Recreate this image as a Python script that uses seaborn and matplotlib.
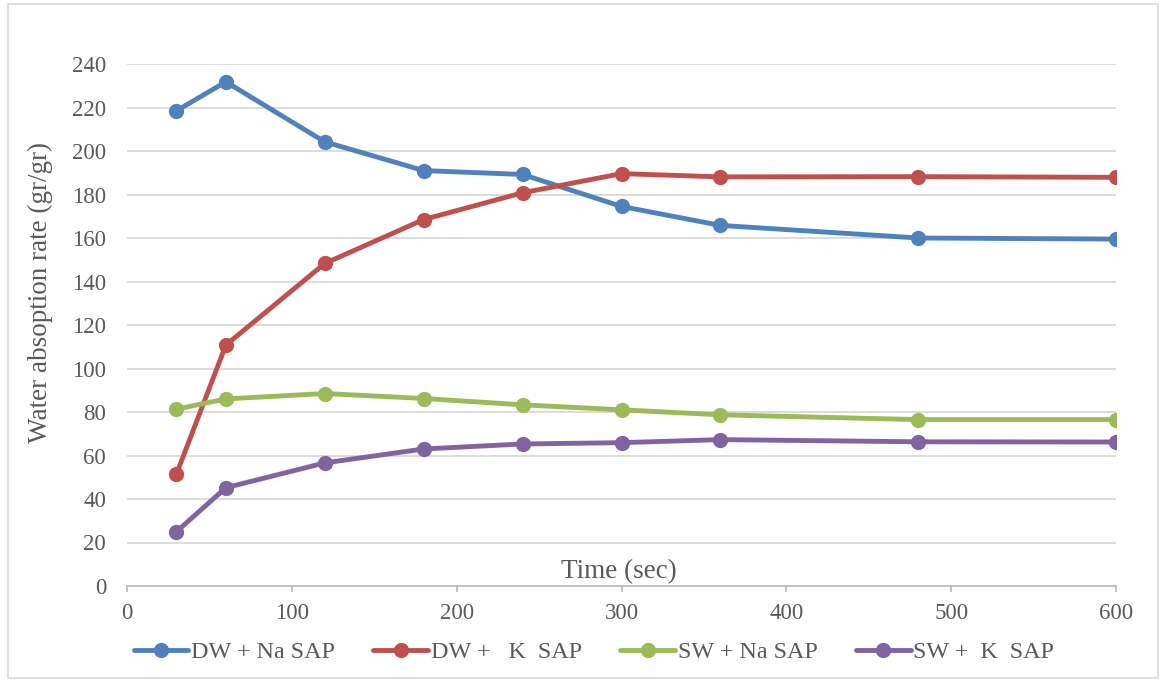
import matplotlib
matplotlib.use("Agg")
import matplotlib.pyplot as plt
import seaborn as sns
import pandas as pd
from matplotlib.patches import Rectangle

time_sec = [30, 60, 120, 180, 240, 300, 360, 480, 600]
dw_na = [218.5, 231.8, 204.2, 191.0, 189.2, 174.5, 165.8, 160.0, 159.5]
dw_k = [51.5, 110.8, 148.3, 168.5, 180.8, 189.6, 188.1, 188.2, 187.9]
sw_na = [81.3, 86.0, 88.5, 86.2, 83.3, 81.0, 78.7, 76.5, 76.5]
sw_k = [25.0, 45.2, 56.6, 63.0, 65.3, 65.9, 67.3, 66.3, 66.2]

labels = ["DW + Na SAP", "DW +   K  SAP", "SW + Na SAP", "SW +  K  SAP"]
colors = ["#4F81BD", "#C0504D", "#9BBB59", "#8064A2"]

frames = []
for lab, vals in zip(labels, [dw_na, dw_k, sw_na, sw_k]):
    frames.append(pd.DataFrame({"Time": time_sec, "Rate": vals, "Series": lab}))
df = pd.concat(frames, ignore_index=True)

sns.set_theme(style="white")
plt.rcParams["font.family"] = ["Liberation Serif", "DejaVu Serif"]

fig = plt.figure(figsize=(11.63, 6.82), dpi=100)
ax = fig.add_axes([127 / 1163, 1 - 586 / 682, (1116 - 127) / 1163, (586 - 64) / 682])

sns.lineplot(data=df, x="Time", y="Rate", hue="Series", hue_order=labels,
             palette=colors, marker="o", markersize=11, linewidth=3.5,
             markeredgewidth=0, ax=ax, legend=False)

ax.set_xlim(0, 600)
ax.set_ylim(0, 240)
ax.set_xticks(range(0, 601, 100))
ax.set_yticks(range(0, 241, 20))
ax.yaxis.grid(True, color="#D9D9D9", linewidth=1.3)
ax.xaxis.grid(False)
for side in ["top", "right", "left"]:
    ax.spines[side].set_visible(False)
ax.spines["bottom"].set_color("#BFBFBF")
ax.spines["bottom"].set_linewidth(1.3)
ax.tick_params(axis="both", labelsize=16.5, labelcolor="#595959")
ax.tick_params(axis="y", length=0, pad=15)
ax.tick_params(axis="x", direction="out", length=4, width=1.3, color="#BFBFBF",
               pad=8, bottom=True)

ax.set_xlabel("")
ax.set_ylabel("Water absoption rate (gr/gr)", fontsize=19.5, color="#595959")
ax.yaxis.set_label_coords(-0.075, 0.563)
ax.text(0.497, 0.004, "Time (sec)", transform=ax.transAxes, ha="center", va="bottom",
        fontsize=19.5, color="#595959")

handles = [plt.Line2D([], [], color=c, linewidth=3.5, marker="o", markersize=11,
                      markeredgewidth=0) for c in colors]
fig.legend(handles, labels, loc="center", bbox_to_anchor=(594 / 1163, 1 - 652 / 682),
           ncol=4, frameon=False, fontsize=17.4, handlelength=2.27, columnspacing=1.57,
           handletextpad=0.12, labelcolor="#595959")

fig.patches.append(Rectangle((8 / 1163, 4 / 682), 1150 / 1163, 674 / 682,
                             transform=fig.transFigure, fill=False,
                             edgecolor="#D9D9D9", linewidth=1.2))

fig.savefig("out.png", dpi=100, facecolor="white")
